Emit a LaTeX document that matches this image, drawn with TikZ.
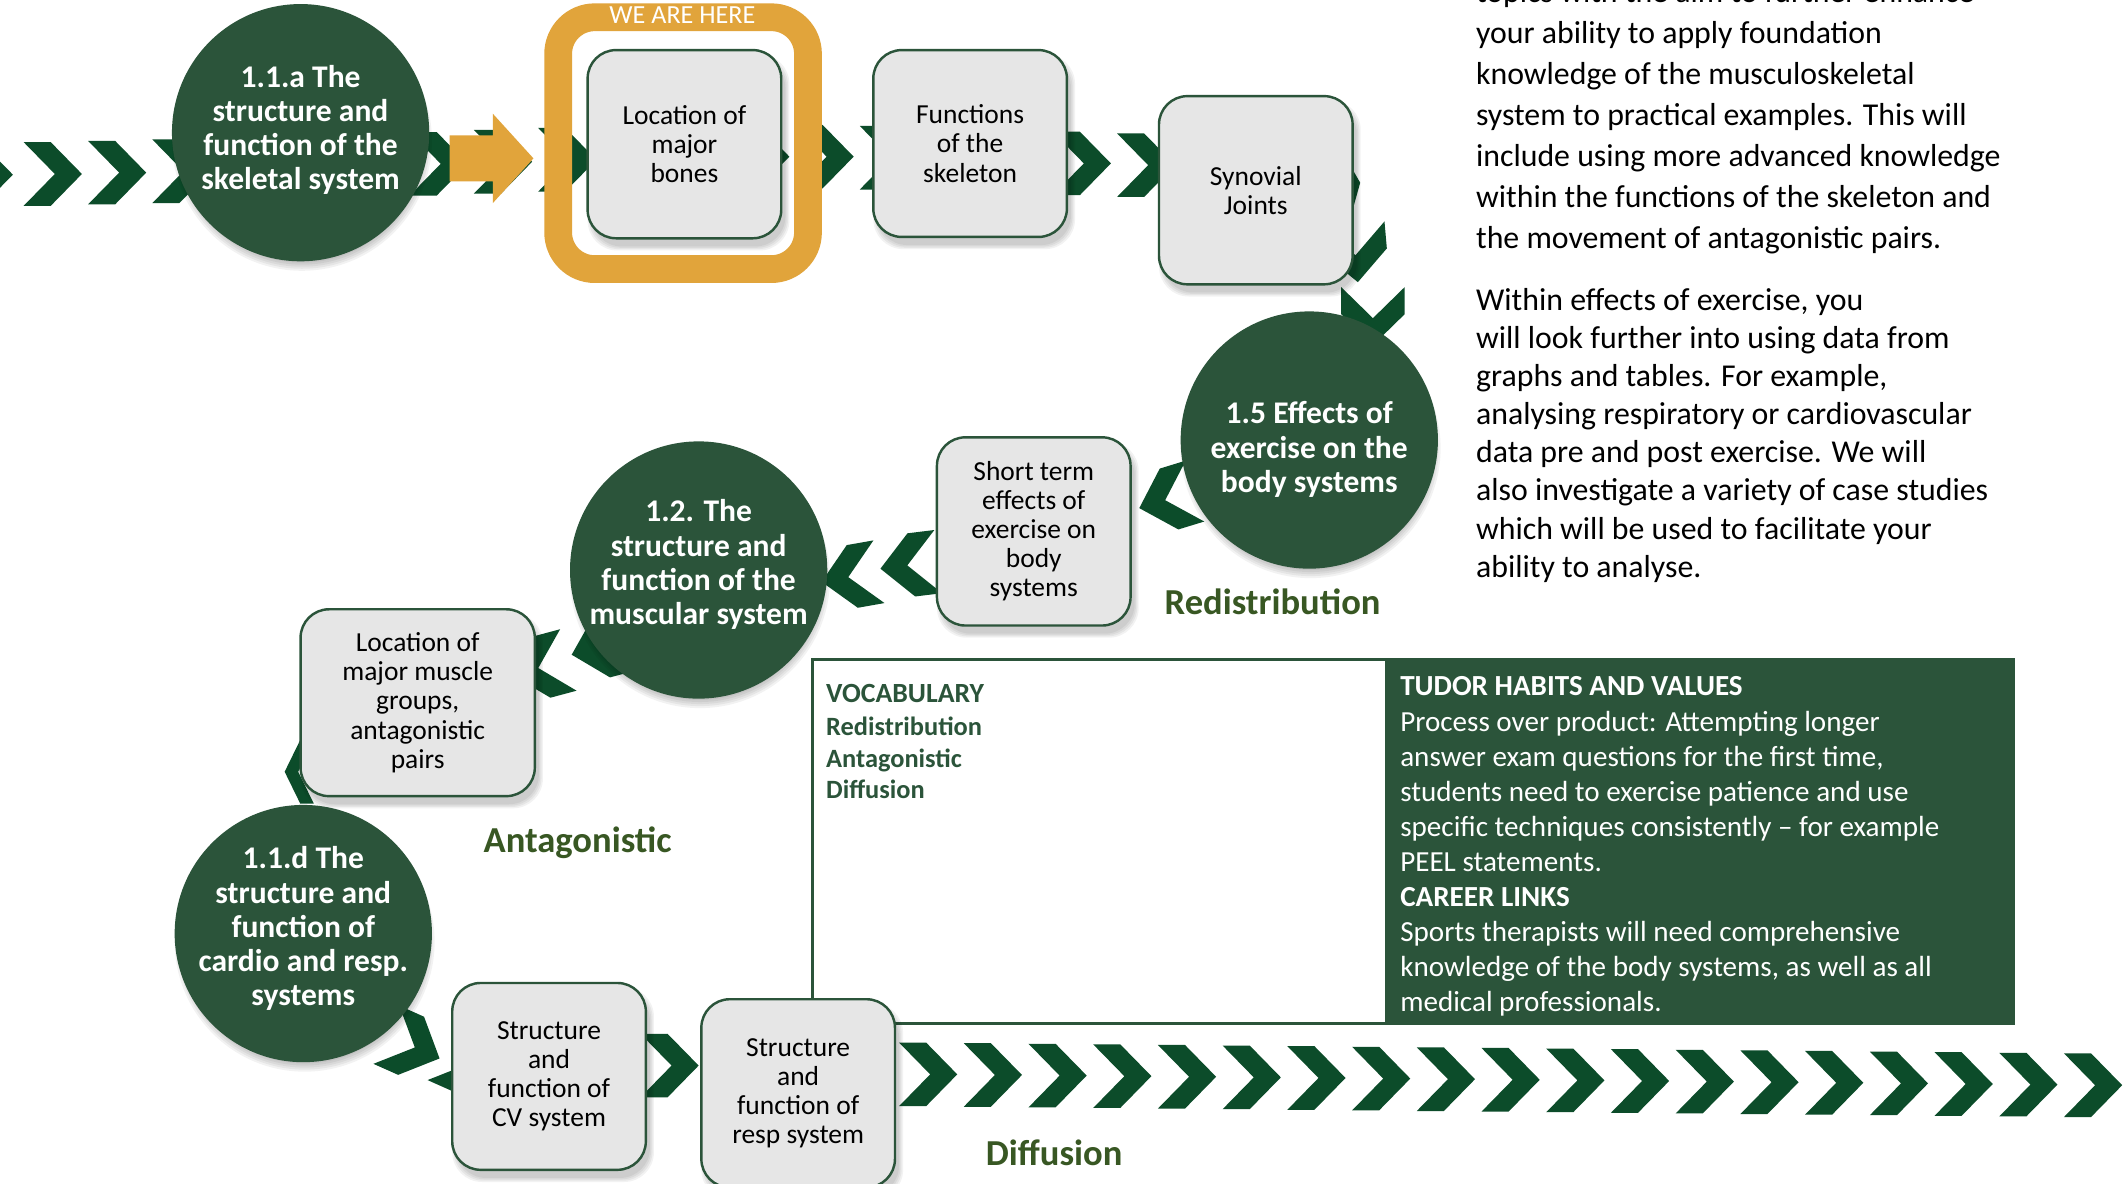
\documentclass[tikz,border=0pt]{standalone}
\usepackage{fontspec}
\setmainfont{Carlito}
\definecolor{cgreen}{RGB}{43,84,58}
\definecolor{chevg}{RGB}{12,76,42}
\definecolor{corange}{RGB}{225,164,59}
\definecolor{boxfill}{RGB}{230,230,230}
\definecolor{olive}{RGB}{56,87,35}
\tikzset{
  pics/chev/.style={code={\fill[chevg] (-21.5,-23.5) -- (-1.5,-23.5) -- (21.5,0) -- (-1.5,23.5) -- (-21.5,23.5) -- (1.5,0) -- cycle;}},
  topic/.style={circle, fill=cgreen, minimum size=190pt, inner sep=0pt},
  topictext/.style={text=white, align=center, font=\bfseries\fontsize{23.3}{25.3}\selectfont, inner sep=0pt},
  stepbox/.style={rectangle, rounded corners=21pt, draw=cgreen, line width=1.8pt, fill=boxfill, minimum width=143pt, minimum height=139pt, align=center, font=\fontsize{20.3}{21.5}\selectfont, inner sep=2pt},
  kword/.style={text=olive, font=\bfseries\fontsize{27}{30}\selectfont, inner sep=0pt, anchor=base west},
  bodytext/.style={font=\fontsize{23.5}{28}\selectfont, inner sep=0pt, anchor=base west},
  tudortext/.style={text=white, font=\fontsize{21.5}{25}\selectfont, inner sep=0pt, anchor=base west},
  vocabtext/.style={text=cgreen, font=\bfseries\fontsize{19.5}{23}\selectfont, inner sep=0pt, anchor=base west}
}
\newcommand{\mycshadow}[2]{\foreach \s in {0,1.5,3,4.5,6}{\fill[black,opacity=0.05] (#1+1,#2+6) circle[radius=90pt+\s pt];}}
\newcommand{\mybshadow}[4]{\foreach \s in {0,2,4,6}{\fill[black,opacity=0.05,rounded corners=22pt] (#1-#3/2+3-\s/2,#2-#4/2+6-\s/2) rectangle (#1+#3/2+3+\s/2,#2+#4/2+6+\s/2);}}
\begin{document}
\begin{tikzpicture}[x=1pt,y=-1pt]
\useasboundingbox (0,0) rectangle (1568,874);
\clip (0,0) rectangle (1568,874);
\fill[white] (0,0) rectangle (1568,874);

% ---- chevrons: top row
\pic at (-12,129) {chev};
\foreach \k/\yy in {1/128.5,2/127.5,3/126.5,4/125,5/124,6/122.5,7/121,8/119.5,9/118,10/117,11/116,12/115.7,13/115.7,14/116.5,15/118,16/119,17/120.7,18/122}
  \pic at ({-8.5+47.5*\k},\yy) {chev};
\pic at (894,124) {chev};
\pic at (941,128) {chev};
\pic[rotate=-60] at (985,148) {chev};
\pic[rotate=-85] at (1001,187) {chev};
\pic[rotate=-90] at (1014,233.5) {chev};
% ---- middle
\pic[rotate=197] at (862,369) {chev};
\pic[rotate=187] at (671.6,417.4) {chev};
\pic[rotate=190] at (628,426) {chev};
\pic[rotate=195] at (443,478) {chev};
\pic[rotate=195] at (399,493) {chev};
\pic[xscale=-0.5] at (221,570) {chev};
% ---- bottom
\pic[rotate=-24] at (305,773) {chev};
\pic[rotate=-24] at (345,785) {chev};
\pic at (494.5,787) {chev};
\foreach \k in {0,...,18}
  \pic at ({685.5+47.8*\k},{793.5+8*\k/18}) {chev};

% ---- orange arrow and frame
\fill[corange] (332,100) -- (364,100) -- (364,84) -- (394,117) -- (364,150) -- (364,134) -- (332,134) -- cycle;
\node[draw=corange, line width=20.5pt, rounded corners=27pt, minimum width=184.5pt, minimum height=186pt, inner sep=0pt] (frame) at (504.5,105.75) {};
\node[text=white, font=\fontsize{19.3}{20}\selectfont, inner sep=0pt, anchor=base] (weh) at (504,17) {WE ARE HERE};

% ---- vocabulary box
\node[draw=cgreen, line width=2pt, minimum width=887pt, minimum height=269pt, anchor=north west, inner sep=0pt] (vocab) at (599,486) {};
\node[fill=cgreen, minimum width=463pt, minimum height=269pt, anchor=north west, inner sep=0pt] (tudorbg) at (1023,486) {};

% ---- shadows
\mycshadow{222}{98}
\mycshadow{967}{325}
\mycshadow{516}{421}
\mycshadow{224}{689.5}
\mybshadow{505.5}{106.5}{143}{139}
\mybshadow{716.5}{106}{143}{138}
\mybshadow{927.5}{140.5}{143}{139}
\mybshadow{763.5}{392.5}{143}{139}
\mybshadow{308.5}{519}{173}{138}
\mybshadow{405.5}{795}{143}{138}
\mybshadow{589.5}{807.5}{143}{139}

% ---- topic circles
\node[topic] (c1) at (222,98) {};
\node[topictext] (c1t) at (222,96) {1.1.a The\\structure and\\function of the\\skeletal system};
\node[topic] (c2) at (967,325) {};
\node[topictext] (c2t) at (967,332) {1.5 Effects of\\exercise on the\\body systems};
\node[topic] (c3) at (516,421) {};
\node[topictext] (c3t) at (516,417) {1.2. The\\structure and\\function of the\\muscular system};
\node[topic] (c4) at (224,689.5) {};
\node[topictext] (c4t) at (224,686) {1.1.d The\\structure and\\function of\\cardio and resp.\\systems};

% ---- step boxes
\node[stepbox] (b1) at (505.5,106.5) {Location of\\major\\bones};
\node[stepbox, minimum height=138pt] (b2) at (716.5,106) {Functions\\of the\\skeleton};
\node[stepbox] (b3) at (927.5,140.5) {Synovial\\Joints};
\node[stepbox] (b4) at (763.5,392.5) {Short term\\effects of\\exercise on\\body\\systems};
\node[stepbox, minimum width=173pt, minimum height=138pt] (b5) at (308.5,519) {Location of\\major muscle\\groups,\\antagonistic\\pairs};
\node[stepbox, minimum height=138pt] (b6) at (405.5,795) {Structure\\and\\function of\\CV system};
\node[stepbox] (b7) at (589.5,807.5) {Structure\\and\\function of\\resp system};

% ---- keywords
\node[kword] (lred) at (860,454) {Redistribution};
\node[kword] (lant) at (357,630) {Antagonistic};
\node[kword] (ldif) at (728,861) {Diffusion};

% ---- vocabulary
\node[vocabtext, font=\bfseries\fontsize{20.5}{23}\selectfont] (v0) at (610,519) {VOCABULARY};
\node[vocabtext] (v1) at (610,543) {Redistribution};
\node[vocabtext] (v2) at (610,566.5) {Antagonistic};
\node[vocabtext] (v3) at (610,590) {Diffusion};

% ---- tudor habits
\foreach \t [count=\i from 0] in {{\textbf{TUDOR HABITS AND VALUES}},Process over product: Attempting longer,{answer exam questions for the first time,},students need to exercise patience and use,specific techniques consistently – for example,PEEL statements.,{\textbf{CAREER LINKS}},Sports therapists will need comprehensive,{knowledge of the body systems, as well as all},medical professionals.}
  \node[tudortext] (tu\i) at (1034,{514+25.9*\i}) {\t};

% ---- right paragraphs
\foreach \t [count=\i from 0] in {topics with the aim to further enhance,your ability to apply foundation,knowledge of the musculoskeletal,system to practical examples. This will,include using more advanced knowledge,within the functions of the skeleton and,the movement of antagonistic pairs.}
  \node[bodytext] (pa\i) at (1090,{1.5+30.4*\i}) {\t};
\foreach \t [count=\i from 0] in {{Within effects of exercise, you},will look further into using data from,{graphs and tables. For example,},analysing respiratory or cardiovascular,data pre and post exercise. We will,also investigate a variety of case studies,which will be used to facilitate your,ability to analyse.}
  \node[bodytext] (pb\i) at (1090,{229+28.2*\i}) {\t};
\end{tikzpicture}
\end{document}
